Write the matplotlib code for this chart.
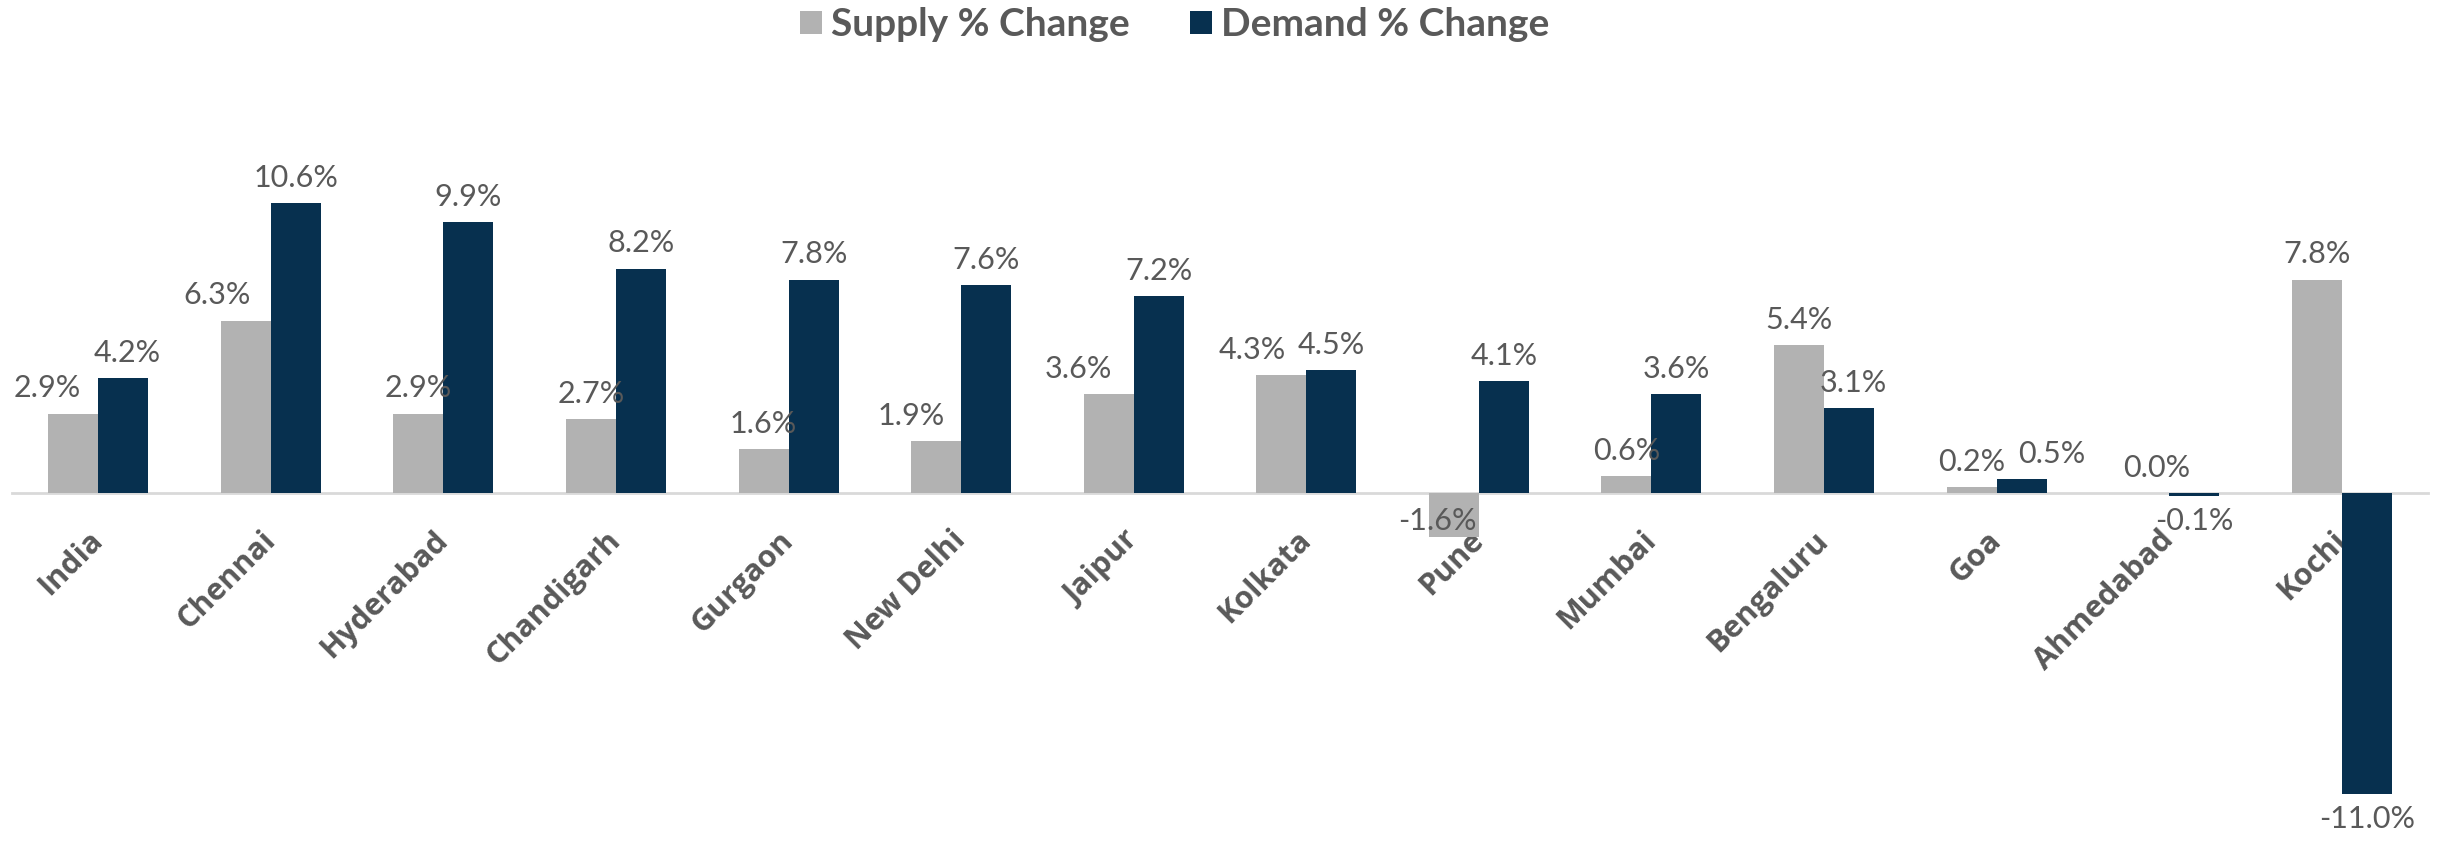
import matplotlib.pyplot as plt
import numpy as np

cities = ['India', 'Chennai', 'Hyderabad', 'Chandigarh', 'Gurgaon', 'New Delhi',
          'Jaipur', 'Kolkata', 'Pune', 'Mumbai', 'Bengaluru', 'Goa', 'Ahmedabad', 'Kochi']
supply = [2.9, 6.3, 2.9, 2.7, 1.6, 1.9, 3.6, 4.3, -1.6, 0.6, 5.4, 0.2, 0.0, 7.8]
demand = [4.2, 10.6, 9.9, 8.2, 7.8, 7.6, 7.2, 4.5, 4.1, 3.6, 3.1, 0.5, -0.1, -11.0]

SUPPLY_C = '#b2b2b2'
DEMAND_C = '#07304f'
TEXT_C = '#595959'

# labels that were nudged in the original (offsets in points)
supply_nudge = {'India': (-19, 8), 'Chennai': (-21, 8), 'New Delhi': (-18, 8),
                'Jaipur': (-22, 8), 'Kolkata': (-21, 8), 'Pune': (-12, 11.5),
                'Ahmedabad': (9, 8)}
demand_nudge = {'India': (3, 8), 'Goa': (22, 8), 'Bengaluru': (3, 8)}

fig = plt.figure(figsize=(24.53, 8.42), dpi=100)
ax = fig.add_axes([12 / 2453, 21 / 842, (2428 - 12) / 2453, (821 - 151) / 842])

x = np.arange(len(cities))
w = 0.29
ax.bar(x - w / 2, supply, w, color=SUPPLY_C, label='Supply % Change', zorder=3)
ax.bar(x + w / 2, demand, w, color=DEMAND_C, label='Demand % Change', zorder=3)

ax.set_xlim(-0.5, len(cities) - 0.5)
ax.set_ylim(-12, 12.5)

lab_font = dict(fontsize=22, color=TEXT_C, family='Lato', zorder=4)
for i, (s, d) in enumerate(zip(supply, demand)):
    dx, dy = supply_nudge.get(cities[i], (0, 8))
    if cities[i] == 'Pune':
        va = 'center'
    else:
        va = 'bottom' if s >= 0 else 'top'
        dy = dy if s >= 0 else -dy
    ax.annotate(f'{s:.1f}%', (x[i] - w / 2, s), xytext=(dx, dy), textcoords='offset points',
                ha='center', va=va, **lab_font)
    dx, dy = demand_nudge.get(cities[i], (0, 8))
    dy = dy if d >= 0 else -dy
    ax.annotate(f'{d:.1f}%', (x[i] + w / 2, d), xytext=(dx, dy), textcoords='offset points',
                ha='center', va='bottom' if d >= 0 else 'top', **lab_font)

for s in ['top', 'right', 'left']:
    ax.spines[s].set_visible(False)
ax.spines['bottom'].set_position(('data', 0))
ax.spines['bottom'].set_color('#d9d9d9')
ax.spines['bottom'].set_linewidth(2)
ax.spines['bottom'].set_zorder(2)
ax.set_yticks([])
ax.set_xticks(x)
ax.set_xticklabels(cities, rotation=45, ha='right', va='center', rotation_mode='anchor',
                   fontsize=22, fontweight='bold', color=TEXT_C, family='Open Sans')
ax.tick_params(axis='x', length=0, pad=31)

leg = fig.legend(loc='center', bbox_to_anchor=(1175 / 2453, 1 - 25 / 842), ncol=2,
                 frameon=False, prop={'family': 'Lato', 'weight': 'bold', 'size': 28},
                 handlelength=0.55, handleheight=0.55, columnspacing=1.55, handletextpad=0.25)
for t in leg.get_texts():
    t.set_color(TEXT_C)

fig.savefig('out.png', dpi=100)
